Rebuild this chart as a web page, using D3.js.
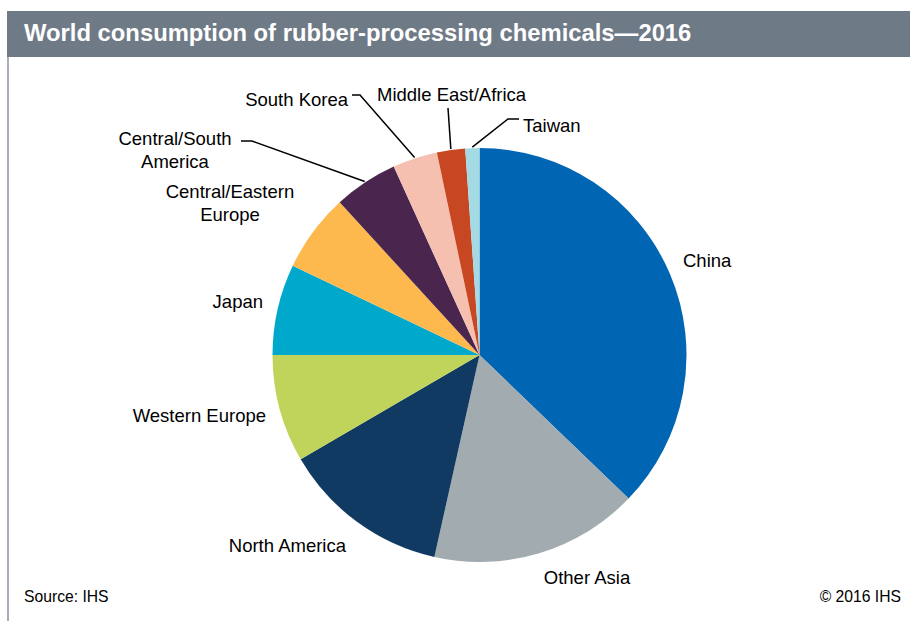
<!DOCTYPE html>
<html>
<head>
<meta charset="utf-8">
<script src="https://cdn.jsdelivr.net/npm/d3@7"></script>
<style>
html,body{margin:0;padding:0;background:#fff;}
svg{display:block;font-family:"Liberation Sans",Arial,sans-serif;}
</style>
</head>
<body>
<svg id="chart" width="910" height="621"></svg>
<script>
const regions = ["China","Other Asia","North America","Western Europe","Japan","Central/Eastern Europe","Central/South America","South Korea","Middle East/Africa","Taiwan"];
const shares = [37.2,16.3,13.1,8.4,7.1,6.1,5.0,3.5,2.2,1.1];
const colors = ["#0066b3","#a2abb0","#113a63","#c0d35a","#00a9cc","#fdb94e","#4a254e","#f5c0b0","#c84723","#a4dae4"];
const labelLines = [["China"],["Other Asia"],["North America"],["Western Europe"],["Japan"],["Central/Eastern","Europe"],["Central/South","America"],["South Korea"],["Middle East/Africa"],["Taiwan"]];

// layout (label anchor positions, text-anchor, leader elbow)
const labelLayout = [
  {x:683,y:267,anchor:"start"},
  {x:587,y:584,anchor:"middle"},
  {x:346,y:552,anchor:"end"},
  {x:266,y:422,anchor:"end"},
  {x:263,y:308,anchor:"end"},
  {x:230,y:198,anchor:"middle"},
  {x:175,y:145,anchor:"middle"},
  {x:348,y:106,anchor:"end", elbow:[[352,95],[360,95]]},
  {x:377,y:101,anchor:"start", elbow:[[448,108]]},
  {x:523,y:132,anchor:"start", elbow:[[519,119],[508,119]]}
];

const svg = d3.select("#chart");
const W = 910, H = 621;

// title bar
svg.append("rect").attr("x",7).attr("y",11).attr("width",W-7).attr("height",46).attr("fill","#6f7a87");
svg.append("text").attr("x",24).attr("y",41).attr("fill","#fff")
  .attr("font-size",23.8).attr("font-weight","bold").text("World consumption of rubber-processing chemicals\u20142016");
// left border
svg.append("line").attr("x1",8).attr("x2",8).attr("y1",57).attr("y2",621).attr("stroke","#6f7a87").attr("stroke-width",1.2);

const cx = 479.5, cy = 355, r = 207;
const g = svg.append("g").attr("transform",`translate(${cx},${cy})`);

const data = regions.map((d,i)=>({name:d,value:shares[i],color:colors[i],lines:labelLines[i],lay:labelLayout[i]}));
const pie = d3.pie().value(d=>d.value).sort(null).startAngle(0).endAngle(2*Math.PI);
const arc = d3.arc().innerRadius(0).outerRadius(r);
const arcs = pie(data);

g.selectAll("path.slice").data(arcs).join("path").attr("class","slice")
  .attr("d",arc).attr("fill",d=>d.data.color).attr("stroke","none");

// leader lines
arcs.forEach(a=>{
  if(!a.data.lay.elbow) return;
  const mid = (a.startAngle+a.endAngle)/2;
  const px = cx + (r+1)*Math.sin(mid), py = cy - (r+1)*Math.cos(mid);
  const pts = [[px,py]].concat(a.data.lay.elbow.slice().reverse());
  svg.append("path").attr("d",d3.line()(pts)).attr("fill","none").attr("stroke","#000").attr("stroke-width",1.5);
});
// Central/South America leader
{
  const a = arcs[6];
  const mid = (a.startAngle+a.endAngle)/2;
  const px = cx + (r+1)*Math.sin(mid), py = cy - (r+1)*Math.cos(mid);
  svg.append("path").attr("d",d3.line()([[px,py],[252,141],[241,141]])).attr("fill","none").attr("stroke","#000").attr("stroke-width",1.5);
}

// labels
arcs.forEach(a=>{
  const L = a.data.lay;
  const t = svg.append("text").attr("x",L.x).attr("y",L.y).attr("text-anchor",L.anchor)
    .attr("font-size",18.5).attr("fill","#000");
  a.data.lines.forEach((ln,i)=>{
    t.append("tspan").attr("x",L.x).attr("dy",i===0?0:22.5).text(ln);
  });
});

// footer
svg.append("text").attr("x",24).attr("y",602).attr("font-size",15.7).text("Source: IHS");
svg.append("text").attr("x",901).attr("y",602).attr("font-size",15.7).attr("text-anchor","end").text("\u00a9 2016 IHS");
</script>
</body>
</html>
